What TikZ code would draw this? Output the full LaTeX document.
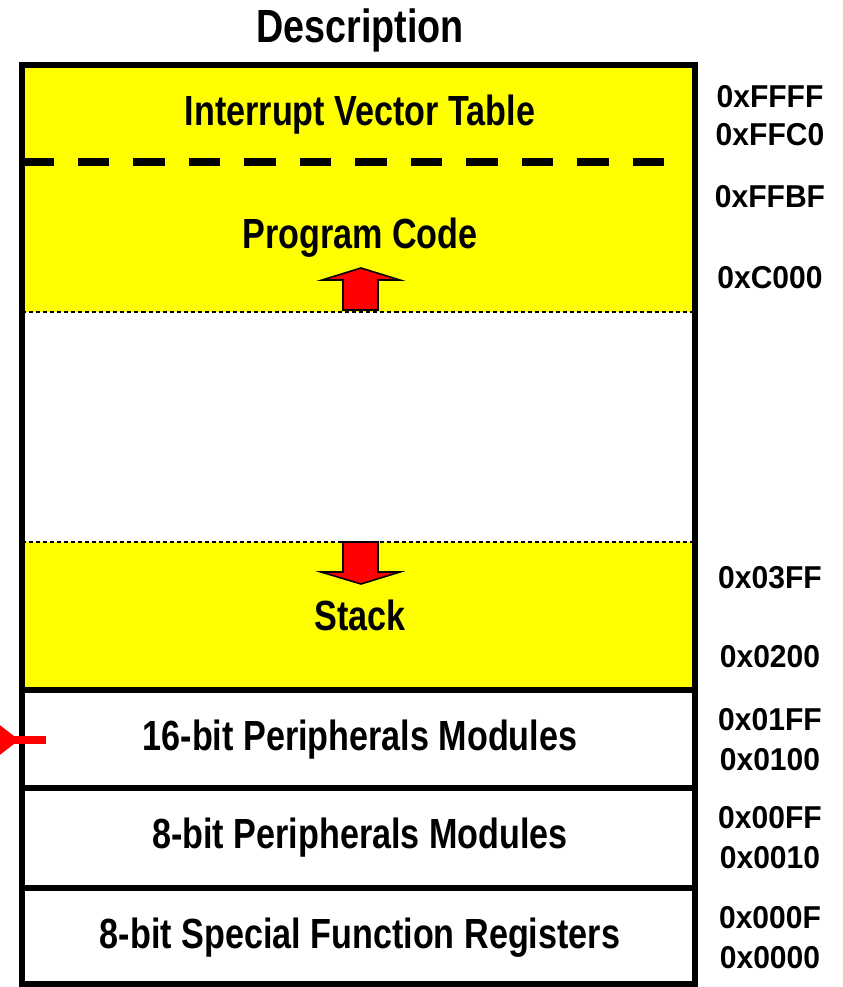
\documentclass[tikz,border=0pt]{standalone}
\usepackage{fontspec}
\setmainfont[FakeStretch=0.81]{Liberation Sans}
\newfontfamily\addrfont[FakeStretch=0.95]{Liberation Sans}
\usetikzlibrary{arrows.meta}
\definecolor{memyellow}{RGB}{255,255,0}
\definecolor{memred}{RGB}{255,0,0}

\tikzset{
  region/.style={font=\fontsize{24}{28}\selectfont\bfseries, align=center},
  addr/.style={font=\addrfont\fontsize{18}{22}\selectfont\bfseries, align=center},
  border/.style={line width=3.4pt},
  limit/.style={line width=1.1pt, dash pattern=on 2.3pt off 1.7pt},
  growth/.style={draw=black, fill=memred, line width=0.9pt, line join=miter}
}

\begin{document}
\begin{tikzpicture}[x=0.02cm, y=-0.02cm]
  \useasboundingbox (0,0) rectangle (842,987);

  %% Title
  \node[font=\fontsize{26.5}{30}\selectfont\bfseries] (title) at (360,30) {Description};

  %% Yellow areas: vectors + code, and stack
  \fill[memyellow] (22,65) rectangle (695,312);
  \fill[memyellow] (22,542) rectangle (695,690);

  %% Separators
  \draw[line width=4pt, dash pattern=on 18pt off 13.6pt] (22,162) -- (675,162);
  \draw[limit] (22,312) -- (695,312);
  \draw[limit] (22,542) -- (695,542);
  \draw[border] (22,690) -- (695,690);
  \draw[border] (22,788) -- (695,788);
  \draw[border] (22,888) -- (695,888);
  \draw[border] (22,65) rectangle (695,984);

  %% Code grows up, stack grows down
  \draw[growth] (343,310) -- (343,280) -- (322,280) -- (361,268) -- (400,280)
    -- (378,280) -- (378,310) -- cycle;
  \draw[growth] (343,542) -- (343,572) -- (321,572) -- (361,584) -- (400,572)
    -- (378,572) -- (378,542) -- cycle;

  %% Memory regions
  \node[region] (ivt)   at (360,115) {Interrupt Vector Table};
  \node[region] (code)  at (360,238) {Program Code};
  \node[region] (stack) at (360,615) {Stack};
  \node[region] (p16)   at (360,740) {16-bit Peripherals Modules};
  \node[region] (p8)    at (360,838) {8-bit Peripherals Modules};
  \node[region] (sfr)   at (360,938) {8-bit Special Function Registers};

  %% Addresses
  \node[addr] (a_ffff) at (770,97)  {0xFFFF};
  \node[addr] (a_ffc0) at (770,135) {0xFFC0};
  \node[addr] (a_ffbf) at (770,197) {0xFFBF};
  \node[addr] (a_c000) at (770,278) {0xC000};
  \node[addr] (a_03ff) at (770,578) {0x03FF};
  \node[addr] (a_0200) at (770,657) {0x0200};
  \node[addr] (a_01ff) at (770,720) {0x01FF};
  \node[addr] (a_0100) at (770,760) {0x0100};
  \node[addr] (a_00ff) at (770,818) {0x00FF};
  \node[addr] (a_0010) at (770,858) {0x0010};
  \node[addr] (a_000f) at (770,918) {0x000F};
  \node[addr] (a_0000) at (770,958) {0x0000};

  %% Pointer into the 16-bit peripherals
  \coordinate (lead) at (46,740);
  \coordinate (pin)  at (0,740);
  \draw[memred, line width=4pt, -{Triangle[reversed, length=11pt, width=16pt]}] (lead) -- (pin);
\end{tikzpicture}
\end{document}
